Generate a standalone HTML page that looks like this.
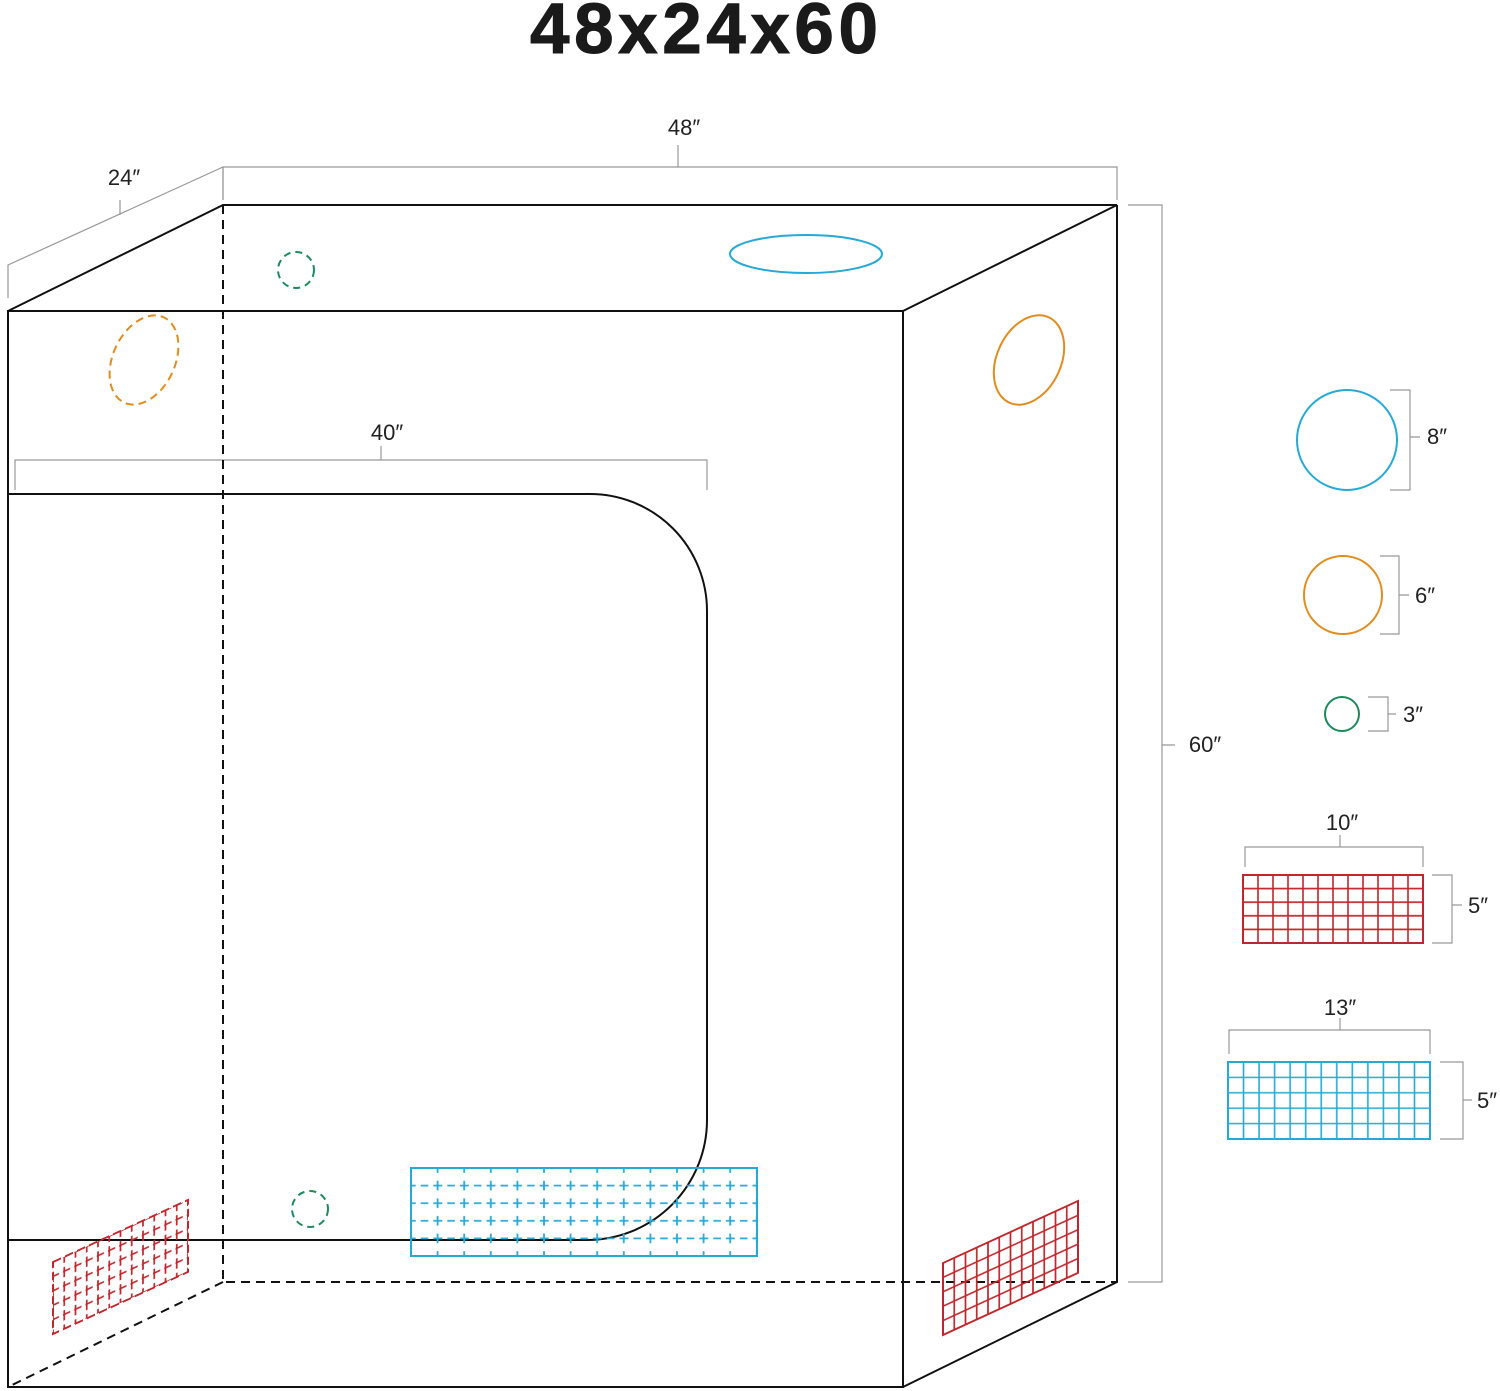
<!DOCTYPE html>
<html><head><meta charset="utf-8"><style>html,body{margin:0;padding:0;background:#fff}svg{display:block}</style></head>
<body>
<svg width="1500" height="1391" viewBox="0 0 1500 1391" xmlns="http://www.w3.org/2000/svg" font-family="Liberation Sans, sans-serif">
<defs>
<pattern id="pr" patternUnits="userSpaceOnUse" width="15" height="13.6" x="1243" y="875"><path d="M0 0H15M0 13.6H15M0 0V13.6M15 0V13.6" stroke="#c0272d" stroke-width="1.6" fill="none"/></pattern>
<pattern id="pb" patternUnits="userSpaceOnUse" width="15.54" height="15.4" x="1228" y="1062"><path d="M0 0H15.54M0 15.4H15.54M0 0V15.4M15.54 0V15.4" stroke="#27a9d6" stroke-width="1.6" fill="none"/></pattern>
<pattern id="pd" patternUnits="userSpaceOnUse" width="26.6" height="17.6" x="397.7" y="1159.2"><path d="M0 8.8H26.6" stroke="#27a9d6" stroke-width="1.8" stroke-dasharray="4 5 9 5 4"/><path d="M13.3 4V13.6" stroke="#27a9d6" stroke-width="1.8"/></pattern>
<pattern id="ps" patternUnits="userSpaceOnUse" width="11.25" height="14.4"><path d="M0 0H11.25M0 14.4H11.25M0 0V14.4M11.25 0V14.4" stroke="#c0272d" stroke-width="1.7" fill="none"/></pattern>
<pattern id="psd" patternUnits="userSpaceOnUse" width="11.25" height="14.4"><path d="M0 0H11.25M0 14.4H11.25M0 0V14.4M11.25 0V14.4" stroke="#c0272d" stroke-width="1.7" fill="none" stroke-dasharray="6 4"/></pattern>
</defs>
<text x="704" y="53" font-size="71" font-weight="bold" text-anchor="middle" textLength="348" lengthAdjust="spacing" fill="#1a1a1a" stroke="#1a1a1a" stroke-width="1">48x24x60</text>

<g stroke="#999" stroke-width="1.2" fill="none">
<path d="M223 200V167H1117V200M678 167V145"/>
<path d="M8 298V265L223 167M223 167V200M120 215V200"/>
<path d="M15 490V460H707V490M381 460V446"/>
<path d="M1128 205H1162V1282H1128M1162 745H1175"/>
<path d="M1390 390H1410V490H1390M1410 437H1420"/>
<path d="M1380 556H1399V634H1380M1399 595H1409"/>
<path d="M1368 697H1388V731H1368M1388 714H1396"/>
<path d="M1245 867V847H1423V867M1340 847V835"/>
<path d="M1432 875H1452V943H1432M1452 905H1462"/>
<path d="M1229 1054V1030H1430V1054M1340 1030V1018"/>
<path d="M1440 1062H1463V1139H1440M1463 1100H1472"/>
</g>
<g font-size="22" fill="#222" text-anchor="middle">
<text x="684" y="135">48″</text>
<text x="124" y="185">24″</text>
<text x="387" y="440">40″</text>
<text x="1205" y="752">60″</text>
<text x="1437" y="444">8″</text>
<text x="1425" y="603">6″</text>
<text x="1413" y="722">3″</text>
<text x="1342" y="830">10″</text>
<text x="1478" y="913">5″</text>
<text x="1340" y="1015">13″</text>
<text x="1487" y="1108">5″</text>
</g>

<g stroke="#111" stroke-width="2" fill="none">
<rect x="8" y="311" width="895" height="1076"/>
<path d="M8 311L223 205H1117L903 311M1117 205V1282L903 1387"/>
<path d="M8 494H590A117 117 0 0 1 707 611V1120A120 120 0 0 1 587 1240H8"/>
</g>
<g stroke="#111" stroke-width="2" fill="none" stroke-dasharray="9 6">
<path d="M223 205V1282H1117M223 1282L8 1387"/>
</g>

<circle cx="296" cy="270" r="18" fill="none" stroke="#1d8a5c" stroke-width="2" stroke-dasharray="7 5"/>
<circle cx="310" cy="1209" r="18" fill="none" stroke="#1d8a5c" stroke-width="2" stroke-dasharray="7 5"/>
<ellipse cx="806" cy="254" rx="76" ry="19" fill="none" stroke="#27a9d6" stroke-width="2"/>
<ellipse cx="144" cy="360" rx="31" ry="47" transform="rotate(25 144 360)" fill="none" stroke="#e08c1e" stroke-width="2" stroke-dasharray="8 5"/>
<ellipse cx="1029" cy="360" rx="32" ry="47" transform="rotate(25 1029 360)" fill="none" stroke="#e08c1e" stroke-width="2"/>

<rect x="411" y="1168" width="346" height="88" fill="url(#pd)" stroke="#27a9d6" stroke-width="2"/>
<g transform="matrix(1,-0.46,0,1,943,1263)"><rect x="0" y="0" width="135" height="72" fill="url(#ps)" stroke="#c0272d" stroke-width="2"/></g>
<g transform="matrix(1,-0.46,0,1,53,1262)"><rect x="0" y="0" width="135" height="72" fill="url(#psd)" stroke="#c0272d" stroke-width="2" stroke-dasharray="8 4"/></g>

<circle cx="1347" cy="440" r="50" fill="none" stroke="#27a9d6" stroke-width="2"/>
<circle cx="1343" cy="595" r="39" fill="none" stroke="#e08c1e" stroke-width="2"/>
<circle cx="1342" cy="714" r="17" fill="none" stroke="#1d8a5c" stroke-width="2"/>
<rect x="1243" y="875" width="180" height="68" fill="url(#pr)" stroke="#c0272d" stroke-width="2"/>
<rect x="1228" y="1062" width="202" height="77" fill="url(#pb)" stroke="#27a9d6" stroke-width="2"/>
</svg>
</body></html>
